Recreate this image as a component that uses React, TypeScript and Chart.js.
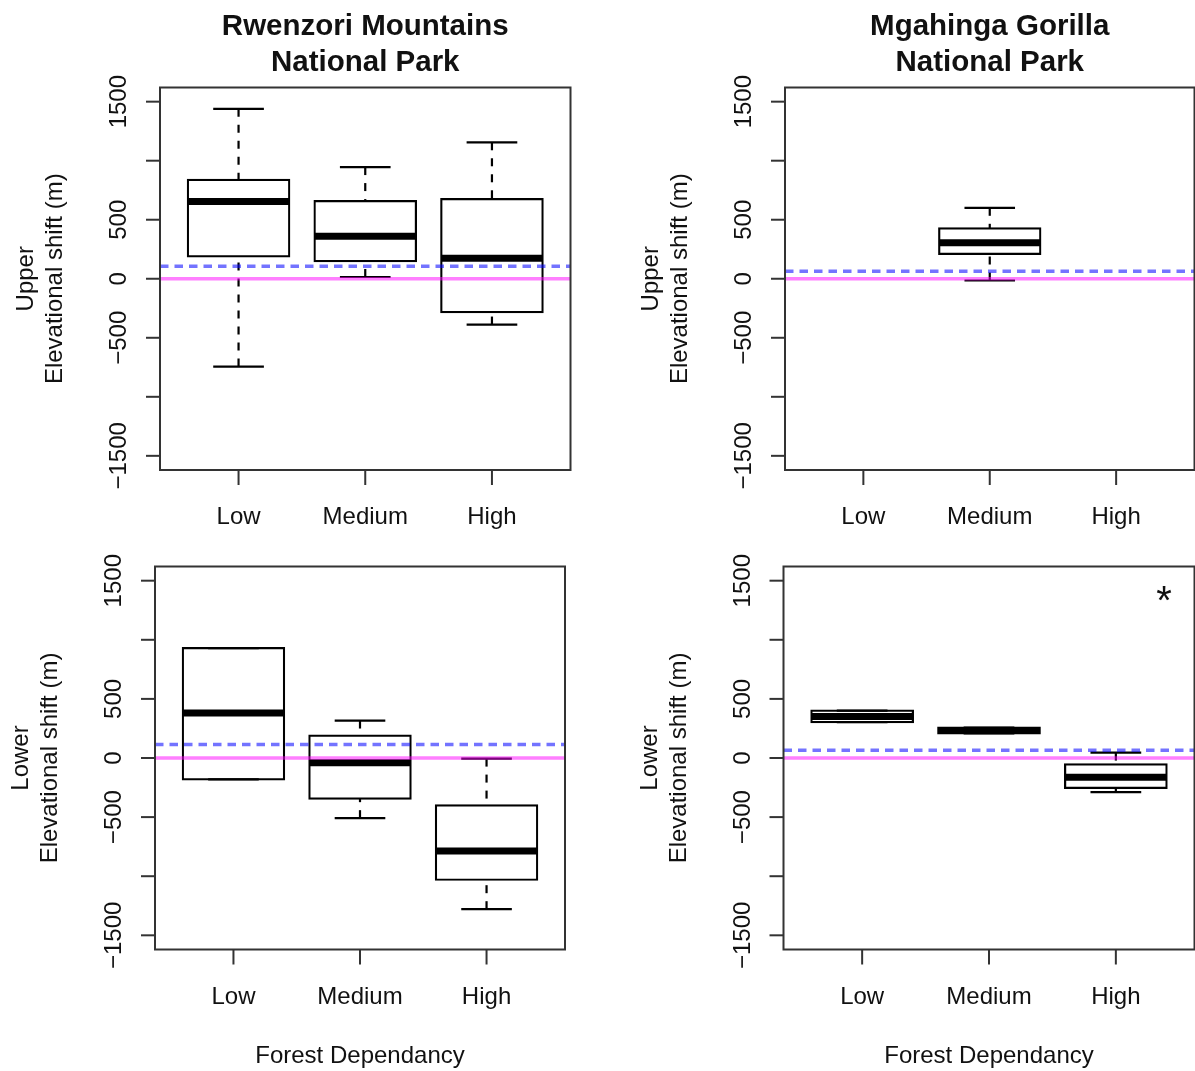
import React, { useEffect, useRef } from 'react';
import { Chart, registerables } from 'chart.js';

Chart.register(...registerables);

const PAGE_W = 1195;
const PAGE_H = 1071;

// ---------- categories & axes ----------
const categories = ['Low', 'Medium', 'High'];
const categoryPositions = [1, 2, 3];
const yTickValues = [-1500, -1000, -500, 0, 500, 1000, 1500];
const yTickLabels = ['\u22121500', '', '\u2212500', '0', '500', '', '1500'];
const yAxisMin = -1620;
const yAxisMax = 1620;
const xAxisMin = 0.38;
const xAxisMax = 3.62;
const xAxisTitle = 'Forest Dependancy';
const yAxisTitle = 'Elevational shift (m)';

// ---------- Rwenzori Mountains NP, upper limit ----------
const rwenzoriUpperLow = [-744, 15, -388];
const rwenzoriUpperQ1 = [190, 149, -283];
const rwenzoriUpperMedian = [655, 360, 173];
const rwenzoriUpperQ3 = [838, 657, 674];
const rwenzoriUpperHigh = [1439, 946, 1156];
const rwenzoriUpperMeanShift = 105;

// ---------- Mgahinga Gorilla NP, upper limit ----------
const mgahingaUpperLow = [null, -15, null];
const mgahingaUpperQ1 = [null, 210, null];
const mgahingaUpperMedian = [null, 306, null];
const mgahingaUpperQ3 = [null, 426, null];
const mgahingaUpperHigh = [null, 601, null];
const mgahingaUpperMeanShift = 64;

// ---------- Rwenzori Mountains NP, lower limit ----------
const rwenzoriLowerLow = [-180, -509, -1279];
const rwenzoriLowerQ1 = [-180, -343, -1030];
const rwenzoriLowerMedian = [380, -40, -787];
const rwenzoriLowerQ3 = [930, 189, -400];
const rwenzoriLowerHigh = [930, 317, -5];
const rwenzoriLowerMeanShift = 114;

// ---------- Mgahinga Gorilla NP, lower limit ----------
const mgahingaLowerLow = [303, 208, -289];
const mgahingaLowerQ1 = [303, 208, -252];
const mgahingaLowerMedian = [352, 233, -163];
const mgahingaLowerQ3 = [400, 258, -54];
const mgahingaLowerHigh = [400, 258, 46];
const mgahingaLowerMeanShift = 66;
const mgahingaLowerNote = { x: 3.38, y: 1390, text: '*' };

// ---------- styling ----------
const FONT = '"Liberation Sans", Arial, Helvetica, sans-serif';
const TEXT_COLOR = '#111';
const BOX_HALF = 0.4;
const CAP_HALF = 0.2;

type Stat = { lo: number; q1: number; med: number; q3: number; hi: number } | null;

function buildStats(lo: any[], q1: any[], med: any[], q3: any[], hi: any[]): Stat[] {
  return categories.map((_, i) =>
    lo[i] == null ? null : { lo: lo[i], q1: q1[i], med: med[i], q3: q3[i], hi: hi[i] }
  );
}

type Panel = {
  key: string;
  title: string[] | null;
  rowLabel: string;
  stats: Stat[];
  meanShift: number;
  area: { left: number; top: number; right: number; bottom: number };
  showXTitle: boolean;
  note: { x: number; y: number; text: string } | null;
};

const panels: Panel[] = [
  {
    key: 'tl',
    title: ['Rwenzori Mountains', 'National Park'],
    rowLabel: 'Upper',
    stats: buildStats(rwenzoriUpperLow, rwenzoriUpperQ1, rwenzoriUpperMedian, rwenzoriUpperQ3, rwenzoriUpperHigh),
    meanShift: rwenzoriUpperMeanShift,
    area: { left: 160, top: 87.5, right: 570.5, bottom: 470 },
    showXTitle: false,
    note: null,
  },
  {
    key: 'tr',
    title: ['Mgahinga Gorilla', 'National Park'],
    rowLabel: 'Upper',
    stats: buildStats(mgahingaUpperLow, mgahingaUpperQ1, mgahingaUpperMedian, mgahingaUpperQ3, mgahingaUpperHigh),
    meanShift: mgahingaUpperMeanShift,
    area: { left: 785, top: 87.5, right: 1194.5, bottom: 470 },
    showXTitle: false,
    note: null,
  },
  {
    key: 'bl',
    title: null,
    rowLabel: 'Lower',
    stats: buildStats(rwenzoriLowerLow, rwenzoriLowerQ1, rwenzoriLowerMedian, rwenzoriLowerQ3, rwenzoriLowerHigh),
    meanShift: rwenzoriLowerMeanShift,
    area: { left: 155, top: 566.5, right: 565, bottom: 949.5 },
    showXTitle: true,
    note: null,
  },
  {
    key: 'br',
    title: null,
    rowLabel: 'Lower',
    stats: buildStats(mgahingaLowerLow, mgahingaLowerQ1, mgahingaLowerMedian, mgahingaLowerQ3, mgahingaLowerHigh),
    meanShift: mgahingaLowerMeanShift,
    area: { left: 783.5, top: 566.5, right: 1194.5, bottom: 949.5 },
    showXTitle: true,
    note: mgahingaLowerNote,
  },
];

function drawText(
  ctx: CanvasRenderingContext2D,
  str: string,
  x: number,
  y: number,
  font: string,
  rotate = false
) {
  ctx.save();
  ctx.font = font;
  ctx.fillStyle = TEXT_COLOR;
  ctx.textAlign = 'center';
  ctx.textBaseline = 'alphabetic';
  ctx.translate(x, y);
  if (rotate) ctx.rotate(-Math.PI / 2);
  ctx.fillText(str, 0, 0);
  ctx.restore();
}

function seg(ctx: CanvasRenderingContext2D, x1: number, y1: number, x2: number, y2: number) {
  ctx.beginPath();
  ctx.moveTo(x1, y1);
  ctx.lineTo(x2, y2);
  ctx.stroke();
}

function makePlugin(panel: Panel) {
  return {
    id: 'rBoxplot_' + panel.key,
    afterDatasetsDraw(chart: any) {
      const ctx: CanvasRenderingContext2D = chart.ctx;
      const xs = chart.scales.x;
      const ys = chart.scales.y;
      const { left, right, top, bottom } = chart.chartArea;
      const Y = (v: number) => ys.getPixelForValue(v);

      ctx.save();
      // whiskers, staples, medians
      panel.stats.forEach((s, i) => {
        if (!s) return;
        const pos = categoryPositions[i];
        const xc = xs.getPixelForValue(pos);
        const capL = xs.getPixelForValue(pos - CAP_HALF);
        const capR = xs.getPixelForValue(pos + CAP_HALF);
        const boxL = xs.getPixelForValue(pos - BOX_HALF);
        const boxR = xs.getPixelForValue(pos + BOX_HALF);
        ctx.strokeStyle = '#000';
        ctx.lineCap = 'butt';
        ctx.lineWidth = 2.2;
        ctx.setLineDash([8, 8]);
        if (s.hi > s.q3) seg(ctx, xc, Y(s.hi), xc, Y(s.q3));
        if (s.lo < s.q1) seg(ctx, xc, Y(s.lo), xc, Y(s.q1));
        ctx.setLineDash([]);
        seg(ctx, capL, Y(s.hi), capR, Y(s.hi));
        seg(ctx, capL, Y(s.lo), capR, Y(s.lo));
        ctx.lineWidth = 7;
        seg(ctx, boxL, Y(s.med), boxR, Y(s.med));
      });

      // reference lines, clipped to plot region
      ctx.save();
      ctx.beginPath();
      ctx.rect(left, top, right - left, bottom - top);
      ctx.clip();
      ctx.lineWidth = 3.5;
      ctx.strokeStyle = 'rgba(255,0,255,0.5)';
      seg(ctx, left, Y(0), right, Y(0));
      ctx.strokeStyle = 'rgba(0,0,255,0.55)';
      ctx.setLineDash([8.5, 6]);
      seg(ctx, left, Y(panel.meanShift), right, Y(panel.meanShift));
      ctx.setLineDash([]);
      ctx.restore();

      // frame
      ctx.strokeStyle = '#333';
      ctx.lineWidth = 2;
      ctx.strokeRect(left, top, right - left, bottom - top);

      // axis ticks
      yTickValues.forEach((v) => seg(ctx, left - 14, Y(v), left, Y(v)));
      categoryPositions.forEach((p) => {
        const x = xs.getPixelForValue(p);
        seg(ctx, x, bottom, x, bottom + 15);
      });

      // tick labels
      const f24 = '24px ' + FONT;
      yTickValues.forEach((v, i) => {
        if (yTickLabels[i]) drawText(ctx, yTickLabels[i], left - 34, Y(v), f24, true);
      });
      categoryPositions.forEach((p, i) => {
        drawText(ctx, categories[i], xs.getPixelForValue(p), bottom + 54, f24);
      });

      // axis titles
      const midY = (top + bottom) / 2;
      const midX = (left + right) / 2;
      drawText(ctx, panel.rowLabel, left - 127, midY, f24, true);
      drawText(ctx, yAxisTitle, left - 98, midY, f24, true);
      if (panel.showXTitle) drawText(ctx, xAxisTitle, midX, bottom + 113, f24);

      // main title
      if (panel.title) {
        const fb = 'bold 29.5px ' + FONT;
        drawText(ctx, panel.title[0], midX, top - 52.5, fb);
        drawText(ctx, panel.title[1], midX, top - 17, fb);
      }

      // annotation
      if (panel.note) {
        const nx = xs.getPixelForValue(panel.note.x);
        const ny = ys.getPixelForValue(panel.note.y);
        ctx.font = '40px ' + FONT;
        const m = ctx.measureText(panel.note.text);
        const base = ny + (m.actualBoundingBoxAscent - m.actualBoundingBoxDescent) / 2;
        drawText(ctx, panel.note.text, nx, base, '40px ' + FONT);
      }
      ctx.restore();
    },
  };
}

function makeConfig(panel: Panel): any {
  const boxes = panel.stats
    .map((s, i) => (s ? { x: categoryPositions[i], y: [s.q1, s.q3] } : null))
    .filter((d) => d !== null);
  return {
    type: 'bar',
    data: {
      datasets: [
        {
          data: boxes,
          backgroundColor: '#ffffff',
          borderColor: '#000000',
          borderWidth: 2.2,
          borderSkipped: false,
          inflateAmount: 1.1,
          categoryPercentage: 1,
          barPercentage: 0.8,
        },
      ],
    },
    options: {
      responsive: false,
      maintainAspectRatio: false,
      animation: false,
      devicePixelRatio: 1,
      events: [],
      layout: {
        padding: {
          left: panel.area.left,
          top: panel.area.top,
          right: PAGE_W - panel.area.right,
          bottom: PAGE_H - panel.area.bottom,
        },
      },
      plugins: {
        legend: { display: false },
        tooltip: { enabled: false },
        title: { display: false },
      },
      scales: {
        x: {
          type: 'linear',
          display: false,
          offset: false,
          grid: { offset: false },
          min: xAxisMin,
          max: xAxisMax,
          afterBuildTicks: (s: any) => {
            s.ticks = categoryPositions.map((v) => ({ value: v }));
          },
        },
        y: {
          type: 'linear',
          display: false,
          min: yAxisMin,
          max: yAxisMax,
          afterBuildTicks: (s: any) => {
            s.ticks = yTickValues.map((v) => ({ value: v }));
          },
        },
      },
    },
    plugins: [makePlugin(panel)],
  };
}

function PanelChart({ panel }: { panel: Panel }) {
  const ref = useRef<HTMLCanvasElement | null>(null);
  useEffect(() => {
    const canvas = ref.current;
    if (!canvas) return;
    const chart = new Chart(canvas, makeConfig(panel));
    return () => chart.destroy();
  }, [panel]);
  return (
    <canvas
      ref={ref}
      width={PAGE_W}
      height={PAGE_H}
      style={{ position: 'absolute', left: 0, top: 0, width: PAGE_W, height: PAGE_H }}
    />
  );
}

export default function App() {
  return (
    <div
      style={{
        position: 'absolute',
        left: 0,
        top: 0,
        width: PAGE_W,
        height: PAGE_H,
        background: '#ffffff',
        overflow: 'hidden',
      }}
    >
      {panels.map((p) => (
        <PanelChart key={p.key} panel={p} />
      ))}
    </div>
  );
}
